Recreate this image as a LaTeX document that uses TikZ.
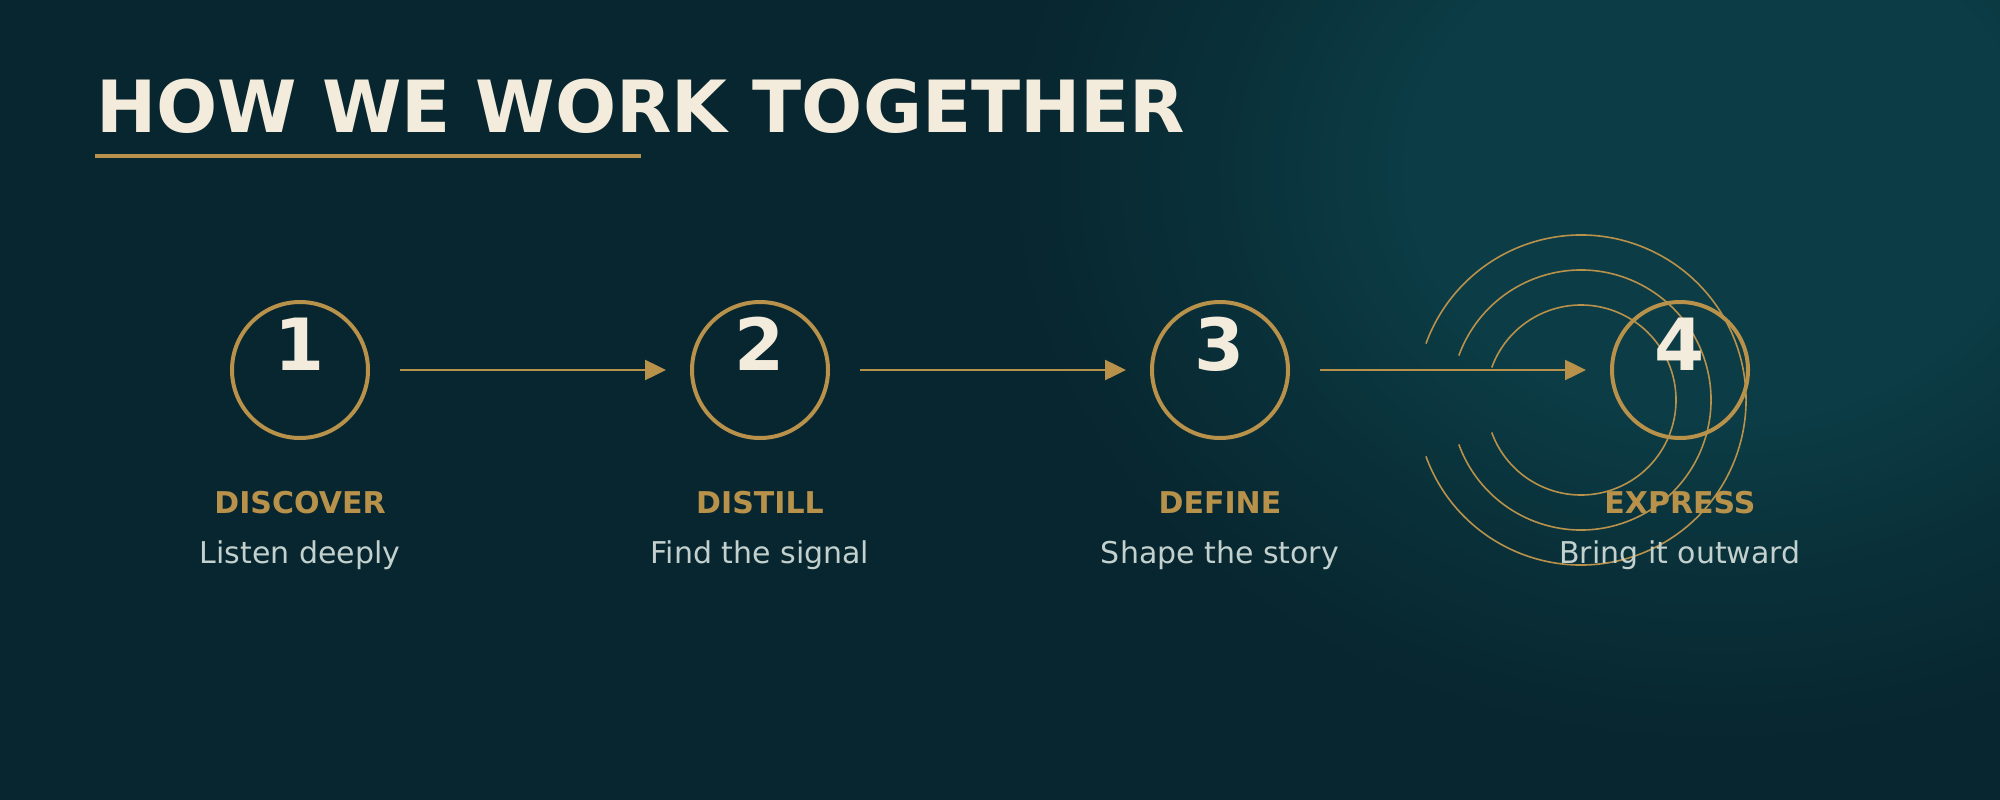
\documentclass[tikz,border=0pt]{standalone}
\usepackage{fontspec}
\setmainfont{DejaVu Sans}
\usetikzlibrary{arrows.meta,fadings}
\definecolor{bgc}{HTML}{08262F}
\definecolor{glowc}{HTML}{0C3C45}
\definecolor{gold}{HTML}{B8924A}
\definecolor{cream}{HTML}{F3EBDB}
\definecolor{subc}{HTML}{C3D1CE}
\pgfdeclareradialshading{glowfadeshade}{\pgfpoint{0bp}{0bp}}{color(0bp)=(white); color(11bp)=(white); color(18bp)=(white!45!black); color(25bp)=(black); color(50bp)=(black)}
\pgfdeclarefading{glowfade}{\pgfuseshading{glowfadeshade}}
\begin{document}
\begin{tikzpicture}[x=1pt,y=-1pt,
  stepcirc/.style={circle,draw=gold,line width=4pt,minimum size=136pt,inner sep=0pt},
  numtxt/.style={anchor=base,inner sep=0pt,text=cream,font=\fontsize{72}{72}\selectfont\bfseries},
  labtxt/.style={anchor=base,inner sep=0pt,text=gold,font=\fontsize{30}{30}\selectfont\bfseries},
  subtxt/.style={anchor=base,inner sep=0pt,text=subc,font=\fontsize{30}{30}\selectfont},
  arr/.style={draw=gold,line width=2.5pt,-{Triangle[length=21pt,width=20pt]},shorten <=30pt,shorten >=24pt},
  ring/.style={draw=gold,line width=1.6pt}]
\useasboundingbox (0,0) rectangle (2000,800);
\fill[bgc] (0,0) rectangle (2000,800);
\begin{scope}
\clip (0,0) rectangle (2000,800);
\fill[glowc,path fading=glowfade,fit fading=true] (1720,170) ellipse [x radius=720, y radius=580];
\end{scope}
% title
\node[anchor=base west,inner sep=0pt,text=cream,font=\fontsize{72}{72}\selectfont\bfseries] (title) at (96,132) {HOW WE WORK TOGETHER};
\draw[gold,line width=4pt] (95,156) -- (641,156);
% rings
\coordinate (ringc) at (1581,400);
\foreach \r in {95,130,165}{
  \draw[ring] (ringc) ++(160:\r) arc[start angle=160,end angle=-160,radius=\r];
}
% steps
\foreach \i/\x/\lab/\sub in {1/300/DISCOVER/Listen deeply,2/760/DISTILL/Find the signal,3/1220/DEFINE/Shape the story,4/1680/EXPRESS/Bring it outward}{
  \node[stepcirc] (c\i) at (\x,370) {};
  \node[numtxt] (n\i) at (\x,370) {\i};
  \node[labtxt] (l\i) at (\x,513) {\lab};
  \node[subtxt] (s\i) at (\x,563) {\sub};
}
\draw[arr] (c1) -- (c2);
\draw[arr] (c2) -- (c3);
\draw[arr] (c3) -- (c4);
\end{tikzpicture}
\end{document}
